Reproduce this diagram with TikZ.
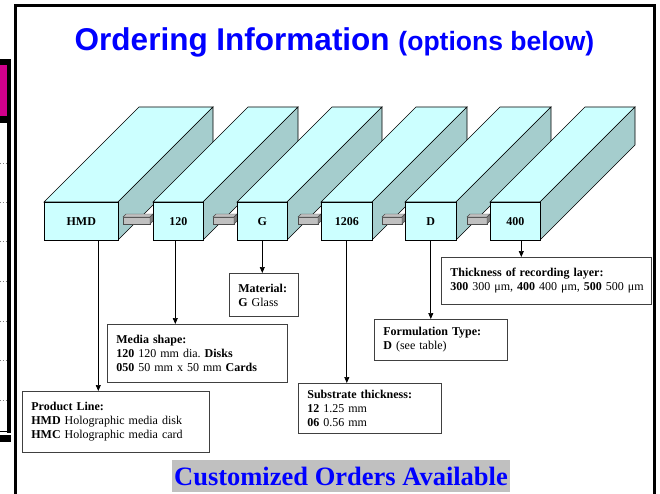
\documentclass[tikz,border=0pt]{standalone}
\usepackage{fontspec}
\setmainfont{Liberation Serif}
\newfontfamily\headfont{Liberation Sans}
\usetikzlibrary{arrows.meta}
\frenchspacing

\definecolor{barfront}{HTML}{CCFFFF}
\definecolor{barside}{RGB}{165,205,205}
\definecolor{plugfront}{RGB}{192,192,192}
\definecolor{plugend}{RGB}{128,128,128}
\definecolor{slidepink}{RGB}{210,0,140}
\definecolor{titleblue}{RGB}{0,0,255}
\definecolor{custgray}{RGB}{192,192,192}

\tikzset{
  barface/.style={draw=black, line width=0.6pt, fill=barfront},
  barlabel/.style={barface, minimum height=38pt, inner sep=0pt, anchor=north west, font=\bfseries\fontsize{12}{14}\selectfont},
  infobox/.style={draw=black!75, line width=0.8pt, fill=white, anchor=north west, align=left, inner xsep=9pt, inner ysep=0pt, font=\fontsize{12}{14}\selectfont},
  pointer/.style={line width=0.7pt, -{Triangle[length=6pt,width=5pt]}},
}

\begin{document}
\begin{tikzpicture}[x=1pt, y=-1pt]
\useasboundingbox (0,0) rectangle (660,494);

%slide behind
\fill[black] (0,59) rectangle (11,65);
\fill[slidepink] (0,65) rectangle (7.3,116);
\fill[black] (0,116) rectangle (7.3,123);
\fill[black] (7.3,59) rectangle (10.7,433);
\draw[line width=0.8pt] (0,431.5) -- (7.3,431.5);
\fill[black] (0,435) rectangle (11,442);
\foreach \y in {163,202,241,281,321,360,400}
  \draw[gray, dotted, line width=0.8pt] (0,\y) -- (7,\y);

%slide frame
\draw[line width=3pt] (15,494) -- (15,5.5) -- (654,5.5) -- (654,494);

%title
\node[anchor=base, text=titleblue, font=\headfont\bfseries] (title) at (334.5,51)
  {\fontsize{31.5}{36}\selectfont Ordering Information \fontsize{26.5}{30}\selectfont(options below)};

%code bars, plug first, then top, side and front
\foreach \x/\w/\lab/\nm/\cx in {44/74/HMD/hmd/0, 153/50/120/shape/123, 237/50/G/mat/213,
    321/51/1206/sub/298, 405/51/D/form/382, 490/50/400/thick/467}{
  \ifnum\cx>0
    \filldraw[fill=plugfront, draw=black!70, line width=0.4pt] (\cx,217) rectangle (\x-3,224);
    \filldraw[fill=plugfront, draw=black!70, line width=0.4pt] (\cx,217) -- (\cx+3,214) -- (\x,214) -- (\x-3,217) -- cycle;
    \filldraw[fill=plugend, draw=black!70, line width=0.4pt] (\x-3,217) -- (\x,214) -- (\x,221) -- (\x-3,224) -- cycle;
  \fi
  \path[barface] (\x,202) -- ++(95,-95) -- ++(\w,0) -- ++(-95,95) -- cycle;
  \path[barface, fill=barside] (\x+\w,202) -- ++(95,-95) -- ++(0,38) -- ++(-95,95) -- cycle;
  \node[barlabel, minimum width=\w*1pt] (\nm) at (\x,202) {\lab};
}

%option boxes
\node[infobox, text width=169pt, minimum height=61pt] (prodline) at (22,391)
  {\textbf{Product Line:}\\ \textbf{HMD} Holographic media disk\\ \textbf{HMC} Holographic media card};
\node[infobox, text width=162pt, minimum height=58pt] (shapebox) at (107,324)
  {\textbf{Media shape:}\\ \textbf{120} 120 mm dia. \textbf{Disks}\\ \textbf{050} 50 mm x 50 mm \textbf{Cards}};
\node[infobox, text width=51pt, minimum height=43pt] (matbox) at (229,273)
  {\textbf{Material:}\\ \textbf{G} Glass};
\node[infobox, text width=125pt, minimum height=50pt] (subbox) at (298,383)
  {\textbf{Substrate thickness:}\\ \textbf{12} 1.25 mm\\ \textbf{06} 0.56 mm};
\node[infobox, text width=115pt, minimum height=41pt] (formbox) at (374,319)
  {\textbf{Formulation Type:}\\ \textbf{D} (see table)};
\node[infobox, text width=192pt, minimum height=47pt] (thickbox) at (441,257)
  {\textbf{Thickness of recording layer:}\\ \mbox{\textbf{300} 300 μm, \textbf{400} 400 μm, \textbf{500} 500 μm}};

%pointers
\draw[pointer] ([xshift=17pt]hmd.south) -- ([xshift=17pt]hmd.south |- prodline.north);
\draw[pointer] ([xshift=-3pt]shape.south) -- ([xshift=-3pt]shape.south |- shapebox.north);
\draw[pointer] (mat.south) -- (mat.south |- matbox.north);
\draw[pointer] (sub.south) -- (sub.south |- subbox.north);
\draw[pointer] (form.south) -- (form.south |- formbox.north);
\draw[pointer] ([xshift=6pt]thick.south) -- ([xshift=6pt]thick.south |- thickbox.north);

%banner
\node[fill=custgray, text=titleblue, minimum width=338pt, minimum height=32pt, inner sep=0pt,
  font=\bfseries\fontsize{26.5}{30}\selectfont] (custom) at (341,476) {Customized Orders Available};
\end{tikzpicture}
\end{document}
